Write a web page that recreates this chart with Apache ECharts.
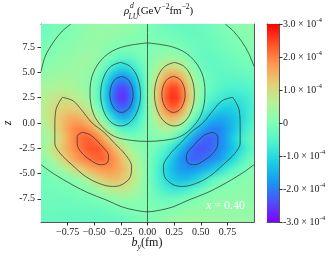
<!DOCTYPE html>
<html><head><meta charset="utf-8">
<script src="https://cdn.jsdelivr.net/npm/echarts@6/dist/echarts.min.js"></script>
<style>html,body{margin:0;padding:0;background:#fff;}#chart{width:335px;height:260px;}</style>
</head><body><div id="chart"></div>
<script>
// ---- grid of cell centres (b_y in fm, z) ----
const bCenters = [-0.975,-0.925,-0.875,-0.825,-0.775,-0.725,-0.675,-0.625,-0.575,-0.525,-0.475,-0.425,-0.375,-0.325,-0.275,-0.225,-0.175,-0.125,-0.075,-0.025,
                  0.025,0.075,0.125,0.175,0.225,0.275,0.325,0.375,0.425,0.475,0.525,0.575,0.625,0.675,0.725,0.775,0.825,0.875,0.925,0.975];
const zCenters = [9.5,8.5,7.5,6.5,5.5,4.5,3.5,2.5,1.5,0.5,-0.5,-1.5,-2.5,-3.5,-4.5,-5.5,-6.5,-7.5,-8.5,-9.5];
// ---- rho^d_LU values, units of 1e-4 GeV^-2 fm^-2, one row per z ----
const rhoRows = [
[-0.19,-0.16,-0.13,-0.08,-0.03,0.03,0.08,0.13,0.18,0.23,0.26,0.28,0.28,0.28,0.26,0.24,0.20,0.16,0.10,0.04,-0.04,-0.10,-0.16,-0.20,-0.24,-0.26,-0.28,-0.28,-0.28,-0.26,-0.23,-0.18,-0.13,-0.08,-0.03,0.03,0.08,0.13,0.16,0.19],
[-0.10,-0.08,-0.04,0.00,0.04,0.08,0.13,0.18,0.22,0.25,0.26,0.26,0.24,0.20,0.17,0.14,0.11,0.08,0.05,0.02,-0.02,-0.05,-0.08,-0.11,-0.14,-0.17,-0.20,-0.24,-0.26,-0.26,-0.25,-0.22,-0.18,-0.13,-0.08,-0.04,0.00,0.04,0.08,0.10],
[-0.04,-0.01,0.03,0.07,0.10,0.14,0.18,0.22,0.25,0.26,0.24,0.20,0.14,0.07,0.01,-0.02,-0.03,-0.03,-0.02,-0.01,0.01,0.02,0.03,0.03,0.02,-0.01,-0.07,-0.14,-0.20,-0.24,-0.26,-0.25,-0.22,-0.18,-0.14,-0.10,-0.07,-0.03,0.01,0.04],
[0.04,0.08,0.11,0.16,0.20,0.24,0.28,0.32,0.34,0.32,0.25,0.13,-0.03,-0.20,-0.32,-0.37,-0.34,-0.25,-0.15,-0.05,0.05,0.15,0.25,0.34,0.37,0.32,0.20,0.03,-0.13,-0.25,-0.32,-0.34,-0.32,-0.28,-0.24,-0.20,-0.16,-0.11,-0.08,-0.04],
[0.14,0.17,0.21,0.24,0.28,0.31,0.33,0.34,0.31,0.23,0.08,-0.17,-0.47,-0.77,-0.98,-1.03,-0.92,-0.69,-0.42,-0.14,0.14,0.42,0.69,0.92,1.03,0.98,0.77,0.47,0.17,-0.08,-0.23,-0.31,-0.34,-0.33,-0.31,-0.28,-0.24,-0.21,-0.17,-0.14],
[0.30,0.34,0.37,0.39,0.40,0.39,0.36,0.32,0.24,0.09,-0.16,-0.54,-1.01,-1.47,-1.79,-1.84,-1.62,-1.21,-0.72,-0.24,0.24,0.72,1.21,1.62,1.84,1.79,1.47,1.01,0.54,0.16,-0.09,-0.24,-0.32,-0.36,-0.39,-0.40,-0.39,-0.37,-0.34,-0.30],
[0.47,0.52,0.57,0.59,0.58,0.55,0.47,0.38,0.25,0.04,-0.31,-0.80,-1.41,-2.00,-2.40,-2.47,-2.17,-1.61,-0.96,-0.31,0.31,0.96,1.61,2.17,2.47,2.40,2.00,1.41,0.80,0.31,-0.04,-0.25,-0.38,-0.47,-0.55,-0.58,-0.59,-0.57,-0.52,-0.47],
[0.62,0.73,0.81,0.84,0.84,0.78,0.70,0.58,0.40,0.13,-0.28,-0.84,-1.50,-2.14,-2.56,-2.62,-2.30,-1.72,-1.02,-0.33,0.33,1.02,1.72,2.30,2.62,2.56,2.14,1.50,0.84,0.28,-0.13,-0.40,-0.58,-0.70,-0.78,-0.84,-0.84,-0.81,-0.73,-0.62],
[0.66,0.83,0.98,1.09,1.16,1.16,1.10,0.96,0.75,0.45,0.03,-0.52,-1.16,-1.75,-2.15,-2.22,-1.96,-1.47,-0.87,-0.29,0.29,0.87,1.47,1.96,2.22,2.15,1.75,1.16,0.52,-0.03,-0.45,-0.75,-0.96,-1.10,-1.16,-1.16,-1.09,-0.98,-0.83,-0.66],
[0.63,0.84,1.06,1.27,1.44,1.55,1.56,1.48,1.30,1.01,0.61,0.10,-0.45,-0.97,-1.32,-1.44,-1.30,-0.98,-0.59,-0.19,0.19,0.59,0.98,1.30,1.44,1.32,0.97,0.45,-0.10,-0.61,-1.01,-1.30,-1.48,-1.56,-1.55,-1.44,-1.27,-1.06,-0.84,-0.63],
[0.49,0.71,0.97,1.25,1.52,1.76,1.91,1.95,1.86,1.65,1.32,0.88,0.40,-0.06,-0.40,-0.58,-0.59,-0.47,-0.29,-0.10,0.10,0.29,0.47,0.59,0.58,0.40,0.06,-0.40,-0.88,-1.32,-1.65,-1.86,-1.95,-1.91,-1.76,-1.52,-1.25,-0.97,-0.71,-0.49],
[0.34,0.53,0.77,1.06,1.38,1.71,1.98,2.17,2.25,2.18,1.98,1.65,1.25,0.83,0.46,0.20,0.04,-0.03,-0.03,-0.01,0.01,0.03,0.03,-0.04,-0.20,-0.46,-0.83,-1.25,-1.65,-1.98,-2.18,-2.25,-2.17,-1.98,-1.71,-1.38,-1.06,-0.77,-0.53,-0.34],
[0.45,0.68,0.95,1.20,1.45,1.70,1.92,2.10,2.27,2.37,2.34,2.17,1.88,1.53,1.16,0.83,0.55,0.34,0.18,0.06,-0.06,-0.18,-0.34,-0.55,-0.83,-1.16,-1.53,-1.88,-2.17,-2.34,-2.37,-2.27,-2.10,-1.92,-1.70,-1.45,-1.20,-0.95,-0.68,-0.45],
[0.20,0.40,0.65,0.92,1.20,1.47,1.70,1.88,2.00,2.12,2.21,2.21,2.09,1.86,1.56,1.22,0.90,0.61,0.35,0.11,-0.11,-0.35,-0.61,-0.90,-1.22,-1.56,-1.86,-2.09,-2.21,-2.21,-2.12,-2.00,-1.88,-1.70,-1.47,-1.20,-0.92,-0.65,-0.40,-0.20],
[-0.02,0.06,0.20,0.38,0.58,0.80,1.02,1.22,1.40,1.55,1.68,1.78,1.82,1.76,1.60,1.37,1.08,0.78,0.47,0.16,-0.16,-0.47,-0.78,-1.08,-1.37,-1.60,-1.76,-1.82,-1.78,-1.68,-1.55,-1.40,-1.22,-1.02,-0.80,-0.58,-0.38,-0.20,-0.06,0.02],
[-0.12,-0.10,-0.06,-0.01,0.03,0.10,0.22,0.40,0.62,0.86,1.08,1.25,1.36,1.40,1.35,1.22,1.00,0.72,0.45,0.15,-0.15,-0.45,-0.72,-1.00,-1.22,-1.35,-1.40,-1.36,-1.25,-1.08,-0.86,-0.62,-0.40,-0.22,-0.10,-0.03,0.01,0.06,0.10,0.12],
[-0.15,-0.15,-0.14,-0.12,-0.10,-0.07,-0.03,0.01,0.08,0.20,0.36,0.52,0.66,0.76,0.80,0.78,0.68,0.53,0.34,0.12,-0.12,-0.34,-0.53,-0.68,-0.78,-0.80,-0.76,-0.66,-0.52,-0.36,-0.20,-0.08,-0.01,0.03,0.07,0.10,0.12,0.14,0.15,0.15],
[-0.19,-0.20,-0.20,-0.20,-0.19,-0.19,-0.17,-0.15,-0.13,-0.08,-0.03,0.03,0.10,0.16,0.21,0.24,0.24,0.21,0.14,0.05,-0.05,-0.14,-0.21,-0.24,-0.24,-0.21,-0.16,-0.10,-0.03,0.03,0.08,0.13,0.15,0.17,0.19,0.19,0.20,0.20,0.20,0.19],
[-0.24,-0.24,-0.24,-0.25,-0.25,-0.25,-0.25,-0.25,-0.25,-0.24,-0.23,-0.21,-0.17,-0.12,-0.07,-0.03,-0.005,0.02,0.03,0.01,-0.01,-0.03,-0.02,0.005,0.03,0.07,0.12,0.17,0.21,0.23,0.24,0.25,0.25,0.25,0.25,0.25,0.25,0.24,0.24,0.24],
[-0.28,-0.29,-0.29,-0.29,-0.29,-0.30,-0.31,-0.31,-0.32,-0.32,-0.33,-0.33,-0.33,-0.32,-0.30,-0.25,-0.20,-0.14,-0.08,-0.03,0.03,0.08,0.14,0.20,0.25,0.30,0.32,0.33,0.33,0.33,0.32,0.32,0.31,0.31,0.30,0.29,0.29,0.29,0.29,0.28]
];
// ---- contour lines, [b_y, z] ----
const zeroVertical = [[0,9.8],[0,-9.8]];
const zeroEllipse = [[0,7.93],[0.244,7.5],[0.40,6.6],[0.51,4.95],[0.54,2.97],[0.51,0.99],[0.43,-0.33],[0.31,-1.33],[0.15,-1.72],[0,-1.82],[-0.15,-1.72],[-0.31,-1.33],[-0.43,-0.33],[-0.51,0.99],[-0.54,2.97],[-0.51,4.95],[-0.40,6.6],[-0.244,7.5],[0,7.93]];
const zeroLowerArc = [[-1,-4.13],[-0.87,-5.1],[-0.7,-6.15],[-0.56,-6.9],[-0.38,-7.65],[-0.24,-8.3],[-0.12,-8.62],[0,-8.79],[0.12,-8.62],[0.24,-8.3],[0.38,-7.65],[0.56,-6.9],[0.7,-6.15],[0.87,-5.1],[1,-4.13]];
const zeroUpperLeft = [[-1,5.08],[-0.96,6.6],[-0.88,8.06],[-0.8,9.1],[-0.72,9.8]];
const zeroUpperRight = [[0.73,9.8],[0.81,9.05],[0.885,8.06],[0.95,6.9],[1,5.6]];
const topRightLevel1 = [[0.253,6.0],[0.347,5.58],[0.415,4.43],[0.44,2.85],[0.415,1.28],[0.347,0.12],[0.253,-0.3],[0.16,0.12],[0.091,1.28],[0.066,2.85],[0.091,4.43],[0.16,5.58],[0.253,6.0]];
const topRightLevel2 = [[0.244,4.61],[0.299,4.37],[0.338,3.72],[0.353,2.83],[0.338,1.94],[0.299,1.29],[0.244,1.05],[0.19,1.29],[0.15,1.94],[0.135,2.83],[0.15,3.72],[0.19,4.37],[0.244,4.61]];
const topLeftLevel1 = [[-0.253,6.0],[-0.347,5.58],[-0.415,4.43],[-0.44,2.85],[-0.415,1.28],[-0.347,0.12],[-0.253,-0.3],[-0.16,0.12],[-0.091,1.28],[-0.066,2.85],[-0.091,4.43],[-0.16,5.58],[-0.253,6.0]];
const topLeftLevel2 = [[-0.244,4.61],[-0.299,4.37],[-0.338,3.72],[-0.353,2.83],[-0.338,1.94],[-0.299,1.29],[-0.244,1.05],[-0.19,1.29],[-0.15,1.94],[-0.135,2.83],[-0.15,3.72],[-0.19,4.37],[-0.244,4.61]];
const lowLeftLevel1 = [[-0.80,2.54],[-0.70,2.2],[-0.62,1.3],[-0.52,0.0],[-0.41,-0.9],[-0.31,-2.0],[-0.21,-3.1],[-0.15,-4.3],[-0.16,-5.3],[-0.24,-6.1],[-0.33,-6.28],[-0.45,-6.0],[-0.58,-5.3],[-0.71,-4.13],[-0.82,-3.0],[-0.87,-2.0],[-0.87,-0.5],[-0.86,1.3],[-0.80,2.54]];
const lowLeftLevel2 = [[-0.615,-0.93],[-0.54,-1.16],[-0.44,-2.15],[-0.365,-3.3],[-0.38,-3.96],[-0.44,-4.13],[-0.54,-3.64],[-0.63,-2.8],[-0.66,-2.0],[-0.66,-1.33],[-0.615,-0.93]];
const lowRightLevel1 = [[0.80,2.54],[0.70,2.2],[0.62,1.3],[0.52,0.0],[0.41,-0.9],[0.31,-2.0],[0.21,-3.1],[0.15,-4.3],[0.16,-5.3],[0.24,-6.1],[0.33,-6.28],[0.45,-6.0],[0.58,-5.3],[0.71,-4.13],[0.82,-3.0],[0.87,-2.0],[0.87,-0.5],[0.86,1.3],[0.80,2.54]];
const lowRightLevel2 = [[0.615,-0.93],[0.54,-1.16],[0.44,-2.15],[0.365,-3.3],[0.38,-3.96],[0.44,-4.13],[0.54,-3.64],[0.63,-2.8],[0.66,-2.0],[0.66,-1.33],[0.615,-0.93]];
// ---- ticks ----
const xTicks = [-0.75,-0.5,-0.25,0,0.25,0.5,0.75];
const xTickLabels = ['\u22120.75','\u22120.50','\u22120.25','0.00','0.25','0.50','0.75'];
const zTicks = [-7.5,-5,-2.5,0,2.5,5,7.5];
const zTickLabels = ['-7.5','-5.0','-2.5','0.0','2.5','5.0','7.5'];
const cbTicks = [-3,-2,-1,0,1,2,3];
const cbMantissa = ['-3.0','-2.0','-1.0','0','1.0','2.0','3.0'];
const cbExponent = '-4';

const SERIF = '"Liberation Serif","Times New Roman",serif';
const rainbow = ['#8000ff','#4d4ffc','#1a96f3','#1acee3','#4df3ce','#80ffb4','#b3f396','#e6ce74','#ff964f','#ff4f28','#ff0000'];
const dB = bCenters[1]-bCenters[0], dZ = zCenters[0]-zCenters[1];
const nB = bCenters.length, nZ = zCenters.length;
const cells = [];
zCenters.forEach((z,i)=>bCenters.forEach((b,j)=>cells.push([b,z,rhoRows[i][j]])));
const idx = (arr,v)=>arr.findIndex(t=>Math.abs(t-v)<1e-6);

const chart = echarts.init(document.getElementById('chart'));
const contourSets = [zeroVertical,zeroEllipse,zeroLowerArc,zeroUpperLeft,zeroUpperRight,topRightLevel1,topRightLevel2,topLeftLevel1,topLeftLevel2,lowLeftLevel1,lowLeftLevel2,lowRightLevel1,lowRightLevel2];
const lineColor = '#555';
const series = [{
  // each cell's colour comes from the visualMap; cells are painted as pixels of one image
  // and shown with smooth (gouraud-like) shading between cell centres
  type:'custom', xAxisIndex:0, yAxisIndex:0, data:cells, clip:true, silent:true, z:1,
  encode:{x:0,y:1},
  renderItem:(params,api)=>{
    if (params.dataIndexInside !== 0) return null;
    const cv = document.createElement('canvas'); cv.width = nB; cv.height = nZ;
    const ctx = cv.getContext('2d');
    for (let k=0;k<nB*nZ;k++){ ctx.fillStyle = api.visual('color', k); ctx.fillRect(k%nB, Math.floor(k/nB), 1, 1); }
    const p0 = api.coord([bCenters[0]-dB/2, zCenters[0]+dZ/2]);
    const p1 = api.coord([bCenters[nB-1]+dB/2, zCenters[nZ-1]-dZ/2]);
    return {type:'image', style:{image:cv, x:p0[0], y:p0[1], width:p1[0]-p0[0], height:p1[1]-p0[1]}};
  }
},{
  type:'custom', xAxisIndex:2, yAxisIndex:2, data:[[0.5,0]], silent:true, z:1,
  renderItem:(params,api)=>{
    const a=api.coord([0,3]), c=api.coord([1,-3]);
    return {type:'rect', shape:{x:a[0],y:a[1],width:c[0]-a[0],height:c[1]-a[1]},
      style:{fill:new echarts.graphic.LinearGradient(0,1,0,0,rainbow.map((col,i)=>({offset:i/(rainbow.length-1),color:col})))}};
  }
}];
contourSets.forEach(d=>series.push({type:'line', xAxisIndex:0, yAxisIndex:0, data:d, smooth:0.35, symbol:'none', silent:true, clip:true, z:3,
  lineStyle:{color:'#2b2b2b', width:0.8, opacity:0.9}}));

const axisLine = {show:true, onZero:false, lineStyle:{color:lineColor, width:1}};
const hiddenX = (g,pos)=>({gridIndex:g, type:'value', min:g===0?-1:0, max:1, position:pos, axisLine:axisLine, axisTick:{show:false}, axisLabel:{show:false}, splitLine:{show:false}});
const hiddenY = (g,pos,mn,mx)=>({gridIndex:g, type:'value', min:mn, max:mx, position:pos, axisLine:axisLine, axisTick:{show:false}, axisLabel:{show:false}, splitLine:{show:false}});

chart.setOption({
  animation:false,
  backgroundColor:'#fff',
  grid:[{left:41, top:24, width:213, height:198, show:false},{left:267, top:24, width:12, height:198, show:false}],
  visualMap:{type:'continuous', show:false, min:-3, max:3, dimension:2, seriesIndex:0, inRange:{color:rainbow}},
  xAxis:[
    {gridIndex:0, type:'value', min:-1, max:1, position:'bottom', axisLine:axisLine,
     axisTick:{show:true, customValues:xTicks, length:3.5, lineStyle:{color:'#333'}},
     axisLabel:{show:true, customValues:xTicks, margin:5, fontFamily:SERIF, fontSize:10, color:'#222', formatter:v=>xTickLabels[idx(xTicks,v)]},
     splitLine:{show:false}},
    hiddenX(0,'top'), hiddenX(1,'bottom'), hiddenX(1,'top')
  ],
  yAxis:[
    {gridIndex:0, type:'value', min:-9.8, max:9.8, position:'left', axisLine:axisLine,
     axisTick:{show:true, customValues:zTicks, length:3.5, lineStyle:{color:'#333'}},
     axisLabel:{show:true, customValues:zTicks, margin:6, fontFamily:SERIF, fontSize:10, color:'#222', formatter:v=>zTickLabels[idx(zTicks,v)]},
     splitLine:{show:false}},
    hiddenY(0,'right',-9.8,9.8),
    {gridIndex:1, type:'value', min:-3, max:3, interval:1, position:'right', axisLine:axisLine,
     axisTick:{show:true, length:3.5, lineStyle:{color:'#333'}},
     axisLabel:{show:true, margin:4, formatter:v=>{const i=idx(cbTicks,v); return v===0?'{m|0}':'{m|'+cbMantissa[i]+' \u00d7 10}{s|'+cbExponent+'}';},
       rich:{m:{fontFamily:SERIF, fontSize:10, color:'#222', lineHeight:14}, s:{fontFamily:SERIF, fontSize:7, color:'#222', lineHeight:7, verticalAlign:'top'}}},
     splitLine:{show:false}},
    hiddenY(1,'left',-3,3)
  ],
  series:series,
  graphic:[
    {type:'text', x:124, y:11, style:{text:'\u03c1', font:'italic 11px '+SERIF, fill:'#111', verticalAlign:'middle'}},
    {type:'text', x:130, y:6, style:{text:'d', font:'italic 7.5px '+SERIF, fill:'#111', verticalAlign:'middle'}},
    {type:'text', x:128.5, y:17.5, style:{text:'LU', font:'italic 7.5px '+SERIF, fill:'#111', verticalAlign:'middle'}},
    {type:'text', x:137, y:11, style:{text:'{t|(GeV}{s|\u22122}{t|fm}{s|\u22122}{t|)}', verticalAlign:'middle',
      rich:{t:{fontFamily:SERIF, fontSize:11, fill:'#111', lineHeight:15}, s:{fontFamily:SERIF, fontSize:7.5, fill:'#111', lineHeight:8, verticalAlign:'top'}}}},
    {type:'text', x:8, y:123, rotation:Math.PI/2, style:{text:'z', font:'italic 12px '+SERIF, fill:'#111', align:'center', verticalAlign:'middle'}},
    {type:'text', x:147, y:243, style:{text:'{b|b}{y|y}{t|(fm)}', align:'center', verticalAlign:'middle',
      rich:{b:{fontFamily:SERIF, fontStyle:'italic', fontSize:12, fill:'#111', lineHeight:16}, y:{fontFamily:SERIF, fontStyle:'italic', fontSize:8, fill:'#111', lineHeight:8, verticalAlign:'bottom'}, t:{fontFamily:SERIF, fontSize:12, fill:'#111', lineHeight:16}}}},
    {type:'text', x:206, y:206, z:10, style:{text:'{i|x}{t| = 0.40}', verticalAlign:'middle',
      rich:{i:{fontFamily:SERIF, fontStyle:'italic', fontSize:12, fill:'#fff'}, t:{fontFamily:SERIF, fontSize:12, fill:'#fff'}}}}
  ]
});
</script></body></html>
